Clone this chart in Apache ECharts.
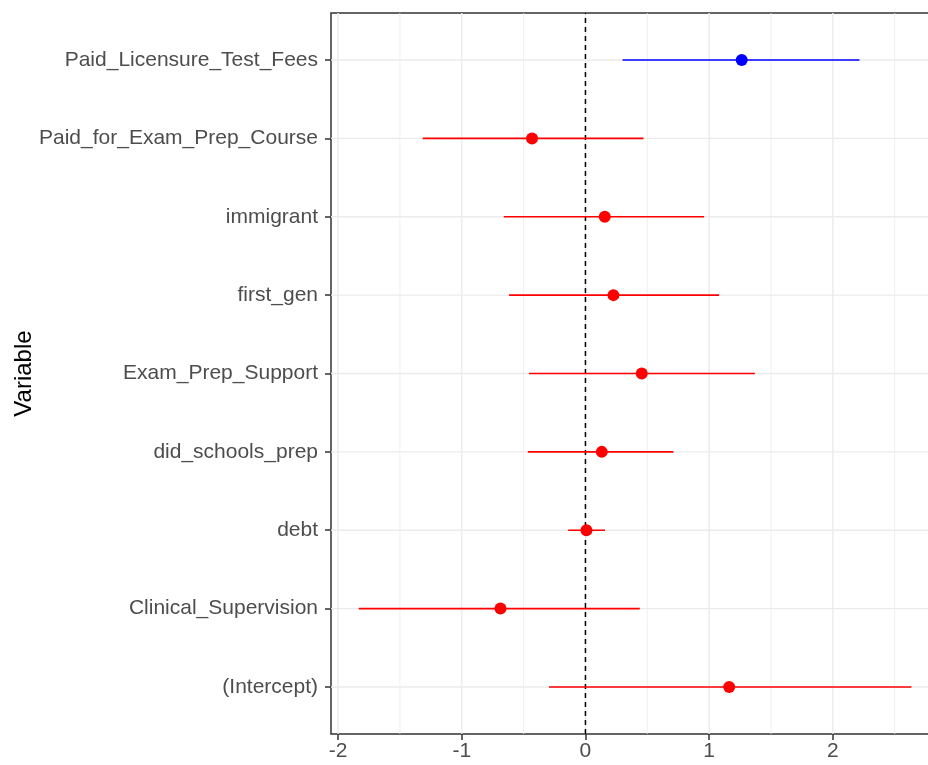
<!DOCTYPE html>
<html><head><meta charset="utf-8">
<script src="https://cdn.jsdelivr.net/npm/echarts@6/dist/echarts.min.js"></script>
<style>html,body{margin:0;padding:0;background:#fff}#c{width:928px;height:765px}</style>
</head><body><div id="c"></div>
<script>
// categories listed bottom -> top
const variables = ["(Intercept)", "Clinical_Supervision", "debt", "did_schools_prep", "Exam_Prep_Support", "first_gen", "immigrant", "Paid_for_Exam_Prep_Course", "Paid_Licensure_Test_Fees"];
const estimates = [1.162, -0.687, 0.008, 0.132, 0.455, 0.226, 0.156, -0.432, 1.263];
const lower = [-0.295, -1.833, -0.140, -0.466, -0.456, -0.617, -0.660, -1.316, 0.300];
const upper = [2.635, 0.439, 0.158, 0.711, 1.369, 1.080, 0.959, 0.469, 2.215];
const xTicks = [-2, -1, 0, 1, 2];
const xMinorGrid = [-1.5, -0.5, 0.5, 1.5, 2.5];
const refLine = [0];

const FONT = '"Liberation Sans", Arial, sans-serif';
const RED = '#FF0000', BLUE = '#0000FF';
const colorOf = i => (lower[i] > 0 || upper[i] < 0) ? BLUE : RED;
const yIdx = variables.map((_, i) => i);
const Y_MIN = -0.6, Y_MAX = variables.length - 1 + 0.6;
const X_MIN = -2.057, X_MAX = 2.858;

const chart = echarts.init(document.getElementById('c'), null, {renderer: 'canvas'});
chart.setOption({
  animation: false,
  backgroundColor: '#ffffff',
  grid: {left: 331, top: 13, width: 608, height: 721, outerBoundsMode: 'none', containLabel: false,
         show: true, borderColor: '#333333', borderWidth: 1.5, backgroundColor: '#ffffff'},
  xAxis: {
    type: 'value', min: X_MIN, max: X_MAX,
    axisLine: {show: false, onZero: false},
    axisTick: {show: true, customValues: xTicks, length: 6, lineStyle: {color: '#333333', width: 1.5}},
    axisLabel: {customValues: xTicks, color: '#4D4D4D', fontFamily: FONT, fontSize: 21, margin: 7},
    splitLine: {show: false}
  },
  yAxis: {
    type: 'value', min: Y_MIN, max: Y_MAX,
    name: 'Variable', nameLocation: 'middle', nameGap: 295, nameRotate: 90, nameMoveOverlap: false,
    nameTextStyle: {color: '#000000', fontFamily: FONT, fontSize: 24},
    axisLine: {show: false, onZero: false},
    axisTick: {show: true, customValues: yIdx, length: 6, lineStyle: {color: '#333333', width: 1.5}},
    axisLabel: {customValues: yIdx, formatter: v => variables[Math.round(v)], color: '#4D4D4D', fontFamily: FONT, fontSize: 21, margin: 13},
    splitLine: {show: false}
  },
  series: [
    { // vertical grid lines
      type: 'custom', z: 1, silent: true,
      data: xTicks.map(v => [v, 1.4]).concat(xMinorGrid.map(v => [v, 0.8])),
      encode: {x: 0},
      renderItem: (params, api) => {
        const a = api.coord([api.value(0), Y_MIN]);
        const b = api.coord([api.value(0), Y_MAX]);
        return {type: 'line', shape: {x1: a[0], y1: a[1], x2: b[0], y2: b[1]}, style: {stroke: '#EBEBEB', lineWidth: api.value(1)}};
      }
    },
    { // horizontal grid lines
      type: 'custom', z: 1, silent: true,
      data: yIdx.map(i => [i]),
      encode: {y: 0},
      renderItem: (params, api) => {
        const a = api.coord([X_MIN, api.value(0)]);
        const b = api.coord([X_MAX, api.value(0)]);
        return {type: 'line', shape: {x1: a[0], y1: a[1], x2: b[0], y2: b[1]}, style: {stroke: '#EBEBEB', lineWidth: 1.4}};
      }
    },
    { // reference line at 0
      type: 'custom', z: 3, silent: true,
      data: refLine.map(v => [v]),
      encode: {x: 0},
      renderItem: (params, api) => {
        const a = api.coord([api.value(0), Y_MIN]);
        const b = api.coord([api.value(0), Y_MAX]);
        return {type: 'line', shape: {x1: a[0], y1: a[1], x2: b[0], y2: b[1]}, style: {stroke: '#000000', lineWidth: 1.5, lineDash: [5, 4]}};
      }
    },
    { // confidence interval bars
      type: 'custom', z: 4, silent: true,
      data: yIdx.map(i => [i, lower[i], upper[i]]),
      encode: {y: 0, x: [1, 2]},
      renderItem: (params, api) => {
        const i = api.value(0);
        const a = api.coord([api.value(1), i]);
        const b = api.coord([api.value(2), i]);
        return {type: 'line', shape: {x1: a[0], y1: a[1], x2: b[0], y2: b[1]}, style: {stroke: colorOf(i), lineWidth: 1.6}};
      }
    },
    { // point estimates
      type: 'scatter', z: 5, symbol: 'circle', symbolSize: 12,
      data: yIdx.map(i => ({value: [estimates[i], i], itemStyle: {color: colorOf(i), opacity: 1}}))
    }
  ]
});
</script>
</body></html>
